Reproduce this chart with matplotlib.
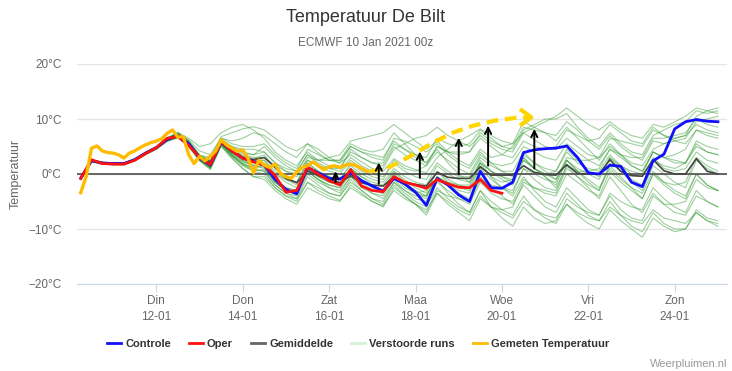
import numpy as np
import matplotlib.pyplot as plt
from matplotlib.lines import Line2D

plt.rcParams['font.family'] = ['Liberation Sans', 'DejaVu Sans']

# Time axis: days after 10 Jan 2021 00z
tick_days = [2, 4, 6, 8, 10, 12, 14]
tick_labels = ["Din\n12-01", "Don\n14-01", "Zat\n16-01", "Maa\n18-01",
               "Woe\n20-01", "Vri\n22-01", "Zon\n24-01"]
y_ticks = [-20, -10, 0, 10, 20]

# 6-hourly model output (first value at +0.25 day)
control = [-0.8, 2.4, 2.0, 1.9,  1.9, 2.6, 3.8, 4.8,  6.3, 7.0, 5.5, 2.9,  1.6, 5.8, 4.2, 2.9,
           2.3, 1.6, -1.0, -2.8,  -3.6, 1.2, 0.2, -0.8,  -0.9, 0.2, -1.2, -2.2,  -3.1, -0.8, -1.8, -3.3,
           -5.7, -0.8, -2.0, -3.8,  -5.0, 0.5, -2.5, -2.6,  -1.5, 3.9, 4.4, 4.6,  4.7, 5.1, 3.0, 0.2,
           0.0, 1.6, 1.4, -1.5,  -2.3, 2.4, 3.6, 8.2,  9.5, 9.9, 9.6, 9.5]
oper = [-0.8, 2.6, 1.9, 1.8,  1.8, 2.5, 3.7, 4.8,  6.5, 6.8, 5.2, 3.0,  1.7, 5.9, 4.2, 2.9,
        2.2, 1.6, -0.3, -3.3,  -3.0, 1.3, 0.0, -1.2,  -2.0, 0.8, -2.2, -3.0,  -3.2, -0.5, -1.5, -2.0,
        -2.6, -1.0, -1.8, -2.4,  -2.5, -1.0, -3.0, -3.5]
mean = [-0.6, 2.5, 2.0, 1.9,  1.9, 2.6, 3.8, 4.8,  6.3, 6.8, 5.5, 3.2,  2.2, 5.6, 4.0, 3.0,
        2.6, 3.0, 1.2, -0.8,  -1.6, 0.6, -0.3, -1.0,  -1.6, -0.3, -1.6, -2.0,  -2.2, -0.5, -1.5, -1.9,
        -2.2, 0.3, -0.6, -0.8,  -0.8, 1.3, -0.2, -0.2,  -0.2, 1.5, 0.3, -0.1,  -0.2, 1.7, 0.1, 0.0,
        0.0, 2.6, 0.5, -0.3,  -0.4, 2.6, 0.6, 0.0,  0.0, 2.8, 0.5, 0.0]

# Perturbed ensemble members, 6-hourly
ens_runs = [
    [-0.5, 2.6, 2.2, 2.0, 2.0, 2.8, 4.0, 5.0, 6.6, 7.6, 6.0, 3.4, 3.0, 6.8, 7.5, 8.2, 8.6, 8.0, 6.5, 5.0,
     4.2, 5.5, 3.8, 2.5, 2.0, 3.5, 2.2, 1.0, 0.5, 2.8, 1.5, 0.8, 0.2, 3.0, 4.5, 6.0, 7.0, 8.2, 7.0, 6.0,
     5.5, 7.5, 6.2, 5.0, 4.5, 6.5, 5.0, 3.5, 3.0, 5.0, 3.5, 2.0, 1.5, 4.5, 5.5, 6.5, 7.0, 9.0, 8.0, 7.5],
    [-0.9, 2.3, 1.8, 1.7, 1.7, 2.4, 3.6, 4.6, 6.0, 6.6, 5.0, 2.5, 1.2, 5.5, 3.5, 1.8, 0.8, 0.5, -2.0, -3.5,
     -4.5, -1.5, -3.0, -4.0, -4.8, -2.5, -3.8, -5.0, -5.8, -3.0, -4.5, -5.5, -6.5, -3.5, -5.0, -6.5,
     -7.5, -4.0, -6.0, -7.0, -8.0, -5.0, -6.5, -7.5, -8.0, -5.5, -7.0, -8.0, -8.5, -6.0, -7.5, -8.5,
     -9.0, -6.5, -8.0, -8.5, -9.0, -7.0, -8.5, -9.5],
    [-0.7, 2.5, 2.1, 1.9, 1.9, 2.7, 3.9, 4.9, 6.4, 7.2, 5.8, 3.2, 2.0, 6.2, 4.5, 3.2, 2.8, 3.5, 1.0, -0.5,
     -1.5, 2.0, 0.5, -0.5, -1.0, 1.5, 0.0, -1.0, -1.5, 1.0, -0.5, -1.5, -2.0, 1.5, 0.0, -1.0,
     -1.5, 2.5, 0.5, -0.5, -1.0, 3.0, 1.0, 0.0, 0.5, 4.0, 2.0, 1.0, 0.5, 3.5, 1.5, 0.0,
     -0.5, 3.0, 1.0, 0.5, 1.0, 4.0, 2.5, 2.0],
    [-0.6, 2.4, 1.9, 1.8, 1.8, 2.5, 3.7, 4.7, 6.2, 7.0, 5.6, 3.0, 1.8, 6.0, 5.0, 4.0, 3.5, 5.0, 3.0, 1.5,
     0.5, 3.5, 2.0, 1.0, 0.5, 3.0, 1.5, 0.5, 1.0, 4.5, 5.5, 6.5, 7.0, 8.5, 7.0, 6.0, 5.0, 7.0, 5.5, 4.5,
     4.0, 7.5, 8.5, 9.5, 10.5, 12.0, 10.5, 9.0, 8.0, 9.5, 8.0, 7.0, 6.5, 9.0, 8.5, 9.5, 10.5, 12.0, 11.5, 11.0],
    [-0.8, 2.4, 2.0, 1.8, 1.8, 2.5, 3.6, 4.6, 6.1, 6.8, 5.2, 2.6, 1.0, 5.2, 3.0, 1.0, -0.5, -1.0, -3.0, -4.5,
     -5.5, -2.5, -3.5, -4.5, -5.0, -2.0, -3.5, -5.0, -6.0, -2.5, -4.0, -5.5, -7.0, -3.0, -4.0, -4.5,
     -5.0, -1.0, -2.0, -2.5, -3.0, 1.0, 0.0, -1.0, -1.5, 2.5, 1.0, 0.0, -1.0, 3.0, 1.5, 0.5,
     0.0, 4.0, 3.0, 2.5, 2.0, 5.5, 4.0, 3.5],
    [-0.7, 2.5, 2.0, 1.9, 1.9, 2.6, 3.8, 4.8, 6.5, 7.5, 6.5, 5.0, 5.5, 7.5, 8.5, 9.0, 8.0, 6.5, 4.0, 2.5,
     1.5, 4.0, 2.5, 1.5, 1.0, 4.5, 3.0, 2.0, 1.5, 5.0, 3.5, 2.5, 1.5, 4.0, 2.5, 1.0, 0.0, 3.5, 2.0, 1.5,
     2.0, 5.0, 4.0, 3.0, 2.5, 5.5, 4.0, 2.5, 1.5, 4.5, 3.0, 1.5, 0.5, 4.0, 3.0, 2.0, 2.0, 5.0, 4.0, 3.5],
    [-0.8, 2.3, 1.9, 1.8, 1.8, 2.5, 3.7, 4.7, 6.2, 6.9, 5.4, 2.8, 1.4, 5.6, 3.8, 2.4, 1.5, 1.0, -1.5, -3.0,
     -3.8, 0.5, -1.0, -2.0, -2.5, 0.0, -2.0, -3.5, -4.5, -1.5, -3.5, -5.0, -6.0, -2.5, -4.5, -6.0,
     -7.0, -3.0, -5.0, -6.5, -7.5, -4.0, -6.5, -8.0, -9.0, -5.5, -7.5, -9.0, -10.0, -6.5, -8.5, -10.0,
     -11.5, -8.0, -9.5, -10.5, -10.0, -7.0, -8.5, -9.0],
    [-0.9, 2.2, 1.8, 1.7, 1.7, 2.4, 3.5, 4.5, 6.0, 6.7, 5.3, 2.7, 1.3, 5.4, 3.5, 2.0, 1.0, 0.5, -2.0, -3.5,
     -4.0, 0.0, -1.5, -2.5, -3.0, -0.5, -2.5, -3.5, -4.0, -1.0, -3.0, -4.5, -5.0, -1.5, -3.0, -4.5,
     -5.5, -1.5, -3.5, -4.5, -5.0, -1.0, -2.5, -3.5, -4.0, 0.0, -1.5, -3.0, -4.0, 0.5, -1.5, -3.0,
     -4.5, 0.0, -2.0, -3.5, -4.5, 0.0, -2.0, -3.0],
    [-0.6, 2.6, 2.1, 2.0, 2.0, 2.7, 3.9, 4.9, 6.4, 7.3, 5.9, 3.3, 2.2, 6.3, 5.0, 4.5, 4.5, 4.0, 2.0, 0.5,
     -0.5, 3.0, 2.5, 3.0, 3.5, 6.0, 6.5, 7.0, 7.5, 9.0, 7.5, 6.0, 4.5, 6.0, 4.0, 2.5, 1.5, 4.5, 3.0, 3.5,
     5.0, 8.5, 8.0, 7.5, 7.0, 9.5, 8.0, 6.0, 4.5, 7.0, 5.0, 3.5, 2.5, 6.0, 5.5, 6.0, 6.5, 9.5, 10.0, 10.5],
    [-0.8, 2.3, 1.9, 1.8, 1.8, 2.5, 3.6, 4.6, 6.1, 6.8, 5.2, 2.6, 1.1, 5.3, 3.2, 1.5, 0.5, 0.0, -2.5, -4.0,
     -4.5, -0.5, -2.0, -3.5, -4.0, -1.0, -3.0, -4.5, -5.5, -2.0, -4.0, -5.5, -7.5, -3.5, -5.5, -7.0,
     -8.5, -4.5, -6.0, -6.5, -6.0, -1.5, -2.5, -3.0, -3.5, 1.0, -0.5, -2.0, -3.0, 2.0, 0.5, -1.5,
     -3.0, 1.5, 0.0, -1.5, -2.5, 2.5, 1.0, 0.0],
    [-0.7, 2.4, 2.0, 1.9, 1.9, 2.6, 3.8, 4.8, 6.3, 7.1, 5.6, 3.0, 1.7, 5.9, 4.2, 3.0, 2.4, 2.5, 0.0, -1.5,
     -2.5, 1.5, 0.0, -1.0, -1.5, 1.0, -0.5, -1.5, -2.0, 0.5, -1.0, -2.5, -3.5, 0.5, -1.5, -2.5,
     -3.0, 1.5, -0.5, -1.5, -1.0, 3.5, 2.0, 1.0, 0.5, 4.5, 2.5, 0.5, -0.5, 3.0, 1.0, -1.0,
     -2.0, 2.5, 1.5, 1.0, 2.0, 6.0, 5.0, 4.5],
    [-0.6, 2.5, 2.1, 2.0, 2.0, 2.7, 3.9, 4.9, 6.5, 7.4, 6.2, 4.2, 3.5, 6.5, 6.0, 6.5, 7.5, 7.0, 5.5, 4.0,
     3.0, 5.5, 4.5, 3.0, 2.0, 5.0, 4.0, 3.0, 2.5, 6.5, 6.0, 5.0, 4.0, 5.5, 3.5, 2.0, 1.0, 4.0, 2.0, 0.5,
     -0.5, 2.5, 1.0, 0.0, -1.0, 3.0, 2.5, 2.5, 3.0, 6.5, 6.0, 5.5, 5.0, 8.0, 7.0, 6.5, 7.0, 10.5, 11.5, 12.0],
    [-0.8, 2.4, 1.9, 1.8, 1.8, 2.5, 3.7, 4.7, 6.2, 6.9, 5.3, 2.7, 1.3, 5.5, 3.4, 1.7, 0.6, 0.8, -1.5, -3.0,
     -3.5, 0.5, -1.0, -2.5, -3.5, -0.5, -2.0, -3.0, -3.5, 0.0, -2.0, -3.5, -4.5, -1.0, -3.5, -5.5,
     -7.0, -3.0, -6.0, -8.0, -9.5, -6.0, -8.0, -9.0, -8.5, -4.5, -6.0, -7.0, -7.5, -3.5, -5.0, -6.0,
     -6.5, -2.5, -4.5, -6.0, -7.0, -3.0, -5.0, -6.0],
    [-0.7, 2.5, 2.0, 1.9, 1.9, 2.6, 3.8, 4.8, 6.3, 7.0, 5.5, 3.0, 1.9, 6.0, 4.5, 3.5, 3.0, 3.0, 1.5, 0.5,
     0.0, 2.5, 1.5, 0.5, 0.0, 2.5, 1.0, 0.0, -0.5, 2.0, 0.5, -0.5, -1.0, 2.0, 0.5, -0.5, -0.5, 3.0, 1.5, 0.5,
     0.5, 4.0, 2.0, 0.5, -1.0, 2.5, 0.5, -1.0, -2.5, 1.0, -1.0, -2.5, -3.5, 0.5, -1.5, -3.0, -4.0, 0.0, -2.0, -3.0],
    [-0.9, 2.3, 1.8, 1.7, 1.7, 2.4, 3.6, 4.6, 6.0, 6.7, 5.1, 2.5, 1.0, 5.2, 3.2, 1.8, 1.2, 1.5, -1.0, -2.5,
     -3.0, 1.0, -0.5, -1.5, -2.0, 1.0, -0.5, -2.0, -3.0, 0.5, -1.5, -3.0, -4.0, -0.5, -2.0, -3.5,
     -4.5, -0.5, -2.5, -4.0, -5.5, -2.0, -4.0, -6.0, -7.0, -3.5, -5.5, -7.5, -8.5, -5.0, -7.5, -9.5,
     -10.5, -7.0, -9.0, -10.0, -10.0, -6.5, -8.0, -8.5],
    [-0.7, 2.4, 2.0, 1.9, 1.9, 2.6, 3.8, 4.8, 6.3, 7.1, 5.7, 3.1, 1.8, 6.0, 4.0, 2.5, 1.5, 2.0, 0.0, -1.0,
     -1.5, 2.5, 1.5, 1.0, 1.0, 4.0, 3.0, 2.0, 2.0, 5.5, 4.5, 3.5, 3.0, 6.5, 5.5, 5.0, 5.5, 8.0, 6.5, 5.0,
     4.5, 8.0, 9.0, 10.0, 10.0, 11.0, 8.5, 6.5, 5.0, 7.5, 5.5, 4.0, 3.5, 7.0, 8.0, 9.0, 9.5, 11.5, 11.0, 11.5],
    [-0.8, 2.4, 1.9, 1.8, 1.8, 2.6, 3.7, 4.7, 6.2, 7.0, 5.4, 2.8, 1.5, 5.7, 3.9, 2.6, 2.0, 1.5, -1.0, -2.5,
     -3.0, 1.0, -0.5, -1.5, -2.0, 1.0, -1.0, -2.5, -3.0, 0.0, -2.0, -3.5, -4.0, -0.5, -2.0, -3.0,
     -3.5, 1.0, -1.0, -2.5, -4.0, -0.5, -3.0, -5.0, -6.0, -2.5, -4.5, -6.5, -7.5, -4.0, -6.5, -8.0,
     -8.5, -4.0, -5.5, -5.5, -5.0, -1.0, -2.5, -3.0],
    [-0.6, 2.5, 2.1, 2.0, 2.0, 2.7, 3.9, 4.9, 6.4, 7.3, 6.0, 3.5, 2.5, 6.5, 5.5, 5.0, 5.0, 5.5, 3.5, 2.0,
     1.0, 4.5, 3.5, 2.5, 2.5, 5.5, 4.5, 4.0, 4.5, 7.5, 5.5, 3.5, 2.0, 4.5, 2.0, 0.0, -1.5, 2.0, -0.5, -2.5,
     -3.5, 1.0, -1.0, -2.5, -3.0, 1.5, 0.5, 0.5, 1.0, 4.5, 3.5, 3.0, 3.0, 6.5, 6.5, 7.0, 7.5, 10.0, 9.0, 8.5],
    [-0.8, 2.3, 1.9, 1.8, 1.8, 2.5, 3.7, 4.7, 6.1, 6.9, 5.4, 2.9, 1.5, 5.6, 3.6, 2.2, 1.6, 1.2, -1.5, -3.0,
     -3.5, 0.5, -1.0, -2.0, -2.5, 0.5, -1.5, -3.0, -3.5, -0.5, -2.5, -3.5, -3.0, 0.5, -1.0, -2.0,
     -2.5, 2.0, 0.5, -1.0, -2.0, 2.5, 1.0, -0.5, -2.0, 2.5, 0.5, -1.5, -3.0, 1.5, -0.5, -2.5,
     -4.5, 0.0, -1.5, -2.0, -1.5, 3.0, 1.5, 0.5],
    [-0.7, 2.5, 2.0, 1.9, 1.9, 2.6, 3.8, 4.8, 6.3, 7.2, 5.8, 3.4, 2.4, 6.2, 4.8, 3.8, 3.5, 4.0, 2.0, 1.0,
     0.5, 3.5, 2.5, 2.5, 2.5, 5.0, 4.0, 3.5, 3.0, 6.0, 4.5, 3.0, 2.0, 5.0, 4.0, 4.0, 4.0, 6.5, 5.0, 3.5,
     3.0, 6.0, 5.0, 4.5, 5.0, 8.0, 7.0, 6.0, 6.5, 9.0, 7.5, 6.0, 5.5, 8.5, 7.0, 6.0, 5.5, 8.0, 7.0, 6.5],
    [-0.9, 2.2, 1.8, 1.7, 1.7, 2.4, 3.5, 4.5, 5.9, 6.6, 5.0, 2.4, 0.8, 5.0, 2.8, 1.0, -0.5, -0.5, -2.5, -4.0,
     -5.0, -1.5, -2.5, -3.5, -4.0, -1.5, -3.0, -4.5, -5.0, -1.5, -3.0, -4.0, -4.0, -0.5, -1.5, -2.0,
     -2.0, 2.0, 0.5, -0.5, -1.5, 3.0, 1.0, -0.5, -2.5, 1.5, -0.5, -2.5, -4.5, -0.5, -3.0, -5.5,
     -7.0, -3.5, -5.5, -7.0, -7.5, -4.0, -5.0, -6.0],
    [-0.7, 2.4, 2.0, 1.9, 1.9, 2.6, 3.8, 4.8, 6.3, 7.1, 5.6, 3.1, 1.8, 6.0, 4.4, 3.2, 2.6, 2.5, 0.5, -1.0,
     -2.0, 2.0, 0.5, -0.5, -1.0, 2.0, 0.5, -0.5, -1.0, 2.5, 1.0, 0.5, 1.5, 5.0, 4.0, 3.5, 4.0, 7.5, 6.0, 5.0,
     5.5, 9.5, 8.5, 7.5, 6.0, 8.5, 6.5, 4.5, 2.5, 5.5, 3.5, 1.5, 0.5, 4.0, 3.0, 3.5, 4.5, 8.0, 7.5, 7.0],
]

# Observed temperature, 3-hourly from +0.25 day
measured = [-3.4, -0.5, 4.7, 5.1, 4.2, 3.9, 3.8, 3.5, 2.9, 3.8, 4.2, 4.8, 5.3, 5.7, 6.0, 6.4,
            7.4, 8.0, 6.7, 6.8, 3.5, 1.9, 3.2, 2.4, 3.2, 4.2, 6.2, 5.3, 4.7, 4.1, 4.4, 2.8,
            0.2, 2.5, 1.6, 1.2, 1.8, 0.1, -0.5, -0.8, 0.4, 1.2, 1.5, 2.2, 1.5, 0.8, 1.3, 1.5,
            1.2, 1.6, 1.8, 1.5, 1.0, 0.5]

# Hand-drawn trend annotation
trend_t = [6.93, 7.41, 7.89, 8.38, 8.86, 9.34, 9.83, 10.31, 10.62]
trend_temp = [0.4, 1.3, 3.3, 5.6, 7.5, 8.8, 9.7, 10.2, 10.3]
chevron_t = [10.42, 10.68, 10.42]
chevron_temp = [11.8, 10.3, 8.8]
arrow_t = [6.15, 7.15, 8.1, 9.0, 9.68, 10.75]
arrow_base = [-2.0, -2.3, -1.2, -0.6, 1.0, 0.5]
arrow_tip = [1.0, 2.6, 4.6, 7.1, 9.3, 8.7]

t6 = 0.25 * np.arange(1, len(control) + 1)
t_meas = 0.25 + 0.125 * np.arange(len(measured))

fig = plt.figure(figsize=(7.32, 3.71), dpi=100)
ax = fig.add_axes([77 / 732, 87 / 371, 650 / 732, 220 / 371])

for run in ens_runs:
    ax.plot(t6, run, color="#2a962a", lw=0.8, alpha=0.45, zorder=2)

ax.axhline(0, color="#5a5a5a", lw=1.3, zorder=3)
ax.plot(t6, mean, color="#444444", lw=1.2, zorder=4)
ax.plot(t6, control, color="#1010ff", lw=2.0, zorder=5)
ax.plot(t6[:len(oper)], oper, color="#ff1010", lw=2.0, zorder=6)
ax.plot(t_meas, measured, color="#ffbb00", lw=2.4, zorder=7)

# trend arrow (dashed) and black arrows
ax.plot(trend_t, trend_temp, color="#ffd500", lw=3.0, ls=(0, (2.8, 1.6)), zorder=8)
ax.plot(chevron_t, chevron_temp, color="#ffd500", lw=3.0, solid_capstyle="butt", zorder=8)
for t, b, tp in zip(arrow_t, arrow_base, arrow_tip):
    ax.annotate("", xy=(t, tp), xytext=(t, b),
                arrowprops=dict(arrowstyle="->", color="black", lw=1.4, mutation_scale=11),
                zorder=9)

ax.set_xlim(0.164, 15.21)
ax.set_ylim(-20, 20)
ax.set_yticks(y_ticks)
ax.set_yticklabels([f"{v}°C".replace("-", "\u2212") for v in y_ticks])
ax.set_xticks(tick_days)
ax.set_xticklabels(tick_labels, linespacing=1.45)
ax.tick_params(axis="y", length=0, pad=11, labelsize=8.5, labelcolor="#666666")
ax.tick_params(axis="x", length=6, color="#ccd6eb", pad=2, labelsize=8.5, labelcolor="#666666")
ax.grid(axis="y", color="#e6e6e6", lw=1)
for s in ["top", "left", "right"]:
    ax.spines[s].set_visible(False)
ax.spines["bottom"].set_color("#ccd6eb")
ax.set_ylabel("Temperatuur", color="#666666", fontsize=9, labelpad=5)

fig.text(366 / 732, 1 - 17 / 371, "Temperatuur De Bilt", ha="center", va="center",
         fontsize=13, color="#333333")
fig.text(366 / 732, 1 - 43 / 371, "ECMWF 10 Jan 2021 00z", ha="center", va="center",
         fontsize=8.5, color="#666666")
fig.text(727 / 732, 1 - 364 / 371, "Weerpluimen.nl", ha="right", va="center",
         fontsize=8, color="#999999")

handles = [Line2D([], [], color="#1010ff", lw=2),
           Line2D([], [], color="#ff1010", lw=2),
           Line2D([], [], color="#666666", lw=2),
           Line2D([], [], color="#d6f0d6", lw=2),
           Line2D([], [], color="#ffbb00", lw=2)]
names = ["Controle", "Oper", "Gemiddelde", "Verstoorde runs", "Gemeten Temperatuur"]
fig.legend(handles, names, loc="center", bbox_to_anchor=(358 / 732, 1 - 344 / 371), ncol=5,
           frameon=False, handlelength=1.3, handletextpad=0.35, columnspacing=1.6,
           prop={"weight": "bold", "size": 8}, labelcolor="#333333")

plt.savefig("out.png", dpi=100)
